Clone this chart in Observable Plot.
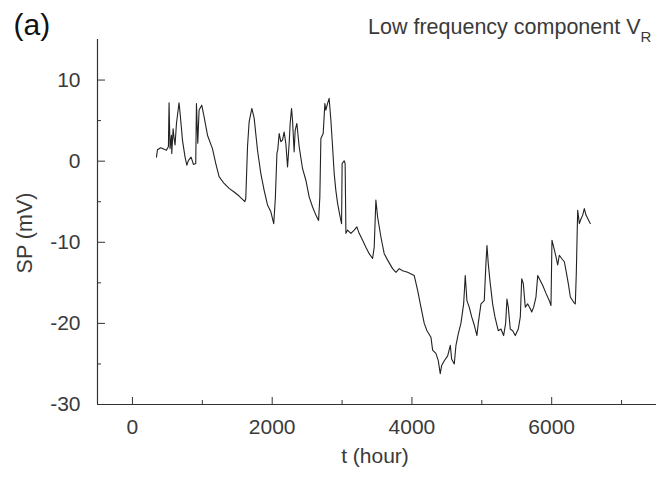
<!DOCTYPE html>
<html>
<head>
<meta charset="utf-8">
<script src="https://cdn.jsdelivr.net/npm/d3@7"></script>
<script src="https://cdn.jsdelivr.net/npm/@observablehq/plot@0.6"></script>
<style>
  html, body { margin: 0; padding: 0; background: #fff; }
  #chart svg { display: block; }
</style>
</head>
<body>
<div id="chart"></div>
<script>
// time (hour)
const tHour = [344,358,405,487,515,524,538,558,563,582,596,610,630,667,682,716,753,778,802,839,873,906,916,935,954,992,1025,1074,1145,1193,1240,1312,1384,1455,1527,1608,1622,1647,1670,1709,1742,1790,1837,1885,1933,1981,2022,2045,2068,2080,2100,2124,2148,2171,2195,2220,2243,2257,2277,2291,2314,2329,2353,2386,2434,2482,2529,2578,2625,2664,2682,2697,2730,2754,2768,2792,2815,2840,2864,2887,2911,2936,2973,2993,3001,3030,3044,3055,3079,3126,3174,3212,3245,3294,3341,3388,3437,3460,3484,3509,3556,3603,3652,3723,3771,3818,3866,3938,4033,4081,4129,4176,4215,4272,4296,4343,4377,4405,4425,4463,4511,4549,4568,4606,4630,4663,4701,4740,4763,4787,4820,4855,4892,4930,4949,4988,5035,5059,5074,5092,5121,5155,5188,5235,5274,5312,5341,5360,5379,5407,5442,5479,5522,5551,5571,5594,5622,5657,5694,5714,5742,5775,5800,5823,5871,5919,5966,5990,6004,6029,6062,6086,6109,6143,6181,6205,6238,6267,6315,6338,6352,6372,6396,6420,6444,6467,6491,6530,6553];
// SP (mV), low frequency component V_R
const spMV = [0.5,1.4,1.65,1.35,1.8,7.2,1.55,3.2,0.95,4.0,2.8,2.0,4.65,7.2,5.9,2.6,0.5,-0.5,0.1,0.5,-0.4,-0.3,7.1,2.2,6.3,6.9,5.5,3.2,1.55,-0.3,-1.9,-2.75,-3.35,-3.8,-4.3,-5.0,-4.6,1.8,4.85,6.5,5.3,1.35,-1.5,-3.6,-5.4,-6.25,-7.7,-4.6,1.0,1.4,3.4,2.4,2.6,3.6,2.2,-0.7,2.2,4.65,6.5,5.05,1.15,3.8,4.65,1.8,-0.9,-2.35,-4.4,-5.65,-6.65,-7.3,-4.4,2.8,3.4,7.1,6.3,7.1,7.75,5.05,1.8,-1.5,-3.6,-5.2,-6.9,-7.7,-0.3,0.05,-0.3,-8.9,-8.5,-8.9,-8.5,-8.1,-8.9,-9.75,-10.6,-11.4,-12.0,-10.6,-4.8,-6.9,-9.35,-11.4,-12.2,-13.25,-13.7,-13.25,-13.5,-13.7,-14.1,-15.9,-18.0,-20.0,-20.9,-21.7,-23.3,-23.7,-24.6,-26.2,-25.2,-24.6,-24.0,-22.7,-24.4,-25.0,-22.7,-21.3,-20.0,-17.6,-14.1,-17.2,-18.0,-19.2,-20.2,-21.5,-20.0,-17.6,-17.2,-12.6,-10.4,-12.6,-15.1,-17.6,-19.2,-20.9,-20.7,-21.5,-20.0,-17.0,-18.0,-20.7,-20.9,-21.5,-20.7,-19.2,-14.5,-15.1,-18.0,-17.6,-18.2,-18.6,-18.0,-16.75,-14.1,-14.5,-15.3,-16.3,-17.2,-17.8,-9.75,-10.6,-11.8,-12.8,-11.6,-12.0,-12.4,-13.5,-15.1,-16.75,-17.4,-17.6,-13.9,-6.05,-7.7,-7.1,-6.65,-5.85,-6.65,-7.3,-7.7];

const xDomain = [-500, 7500];
const yDomain = [-30, 15];
const xMajorTicks = [0, 2000, 4000, 6000];
const xMinorTicks = [1000, 3000, 5000, 7000];
const yMajorTicks = [-30, -20, -10, 0, 10];
const yMinorTicks = [-25, -15, -5, 5];

const data = tHour.map((t, i) => ({t, sp: spMV[i]}));

const W = 657, H = 478;
const mL = 97, mR = 1, mT = 39, mB = 74;
const fw = W - mL - mR, fh = H - mT - mB;
const axisColor = "#333";
const textColor = "#3a3a3a";

const chart = Plot.plot({
  width: W,
  height: H,
  marginLeft: mL,
  marginRight: mR,
  marginTop: mT,
  marginBottom: mB,
  style: {fontFamily: "'Liberation Sans', Arial, sans-serif", fontSize: "21px", color: textColor, background: "#fff"},
  x: {domain: xDomain},
  y: {domain: yDomain},
  marks: [
    Plot.axisX({ticks: xMajorTicks, tickSize: 0, tickPadding: 15, tickFormat: d => String(d), label: null, fontSize: 21, fill: textColor}),
    Plot.axisY({ticks: yMajorTicks, tickSize: 0, tickPadding: 17, tickFormat: d => String(d), label: null, fontSize: 21, fill: textColor}),
    Plot.tickX(xMajorTicks, {x: d => d, insetTop: fh - 7, stroke: axisColor}),
    Plot.tickX(xMinorTicks, {x: d => d, insetTop: fh - 4, stroke: axisColor}),
    Plot.tickY(yMajorTicks, {y: d => d, insetRight: fw - 8, stroke: axisColor}),
    Plot.tickY(yMinorTicks, {y: d => d, insetRight: fw - 4, stroke: axisColor}),
    Plot.ruleX([xDomain[0]], {stroke: axisColor, strokeWidth: 1.2}),
    Plot.ruleY([yDomain[0]], {stroke: axisColor, strokeWidth: 1.2}),
    Plot.line(data, {x: "t", y: "sp", stroke: "#222", strokeWidth: 1.1, curve: "linear"}),
    Plot.text(["SP (mV)"], {text: d => d, frameAnchor: "left", rotate: -90, textAnchor: "middle", lineAnchor: "middle", dx: -72, dy: 11, fontSize: 21.5, fill: textColor}),
    Plot.text(["t (hour)"], {text: d => d, frameAnchor: "bottom", textAnchor: "middle", lineAnchor: "top", dx: -2, dy: 44, fontSize: 21, fill: textColor}),
    Plot.text(["(a)"], {text: d => d, frameAnchor: "top-left", textAnchor: "start", lineAnchor: "bottom", dx: -84, dy: -5, fontSize: 30, fill: "#111"}),
    Plot.text(["Low frequency component V"], {text: d => d, frameAnchor: "top-right", textAnchor: "end", lineAnchor: "bottom", dx: -16, dy: -6, fontSize: 21.5, fill: textColor}),
    Plot.text(["R"], {text: d => d, frameAnchor: "top-right", textAnchor: "start", lineAnchor: "bottom", dx: -16, dy: 2, fontSize: 15, fill: textColor})
  ]
});

document.getElementById("chart").appendChild(chart);
</script>
</body>
</html>
